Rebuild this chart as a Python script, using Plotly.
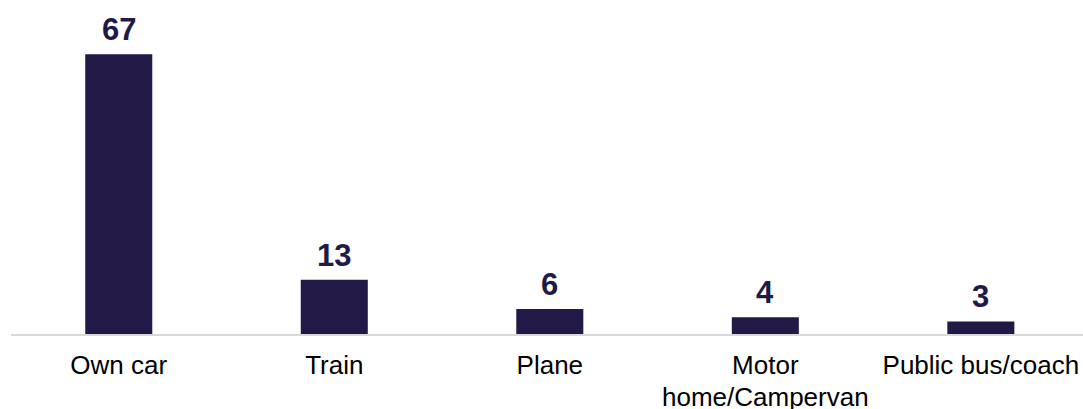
import plotly.graph_objects as go

categories = ["Own car", "Train", "Plane", "Motor\nhome/Campervan", "Public bus/coach"]
values = [67, 13, 6, 4, 3]

bar_color = "#221947"
font_family = "Liberation Sans, Arial"

# A wrapped category keeps its first line as the tick label; the rest is
# set just beneath it with tighter leading.
first_lines = [c.split("\n")[0] for c in categories]
second_lines = {i: c.split("\n", 1)[1] for i, c in enumerate(categories) if "\n" in c}

fig = go.Figure(
    go.Bar(
        x=list(range(len(categories))),
        y=values,
        width=0.311,
        marker=dict(color=bar_color, line=dict(width=0)),
        hoverinfo="skip",
    )
)

# Bold value labels above each bar
for i, v in enumerate(values):
    fig.add_annotation(
        x=i, y=v, text=f"<b>{v}</b>", showarrow=False,
        yanchor="bottom", yshift=5,
        font=dict(family=font_family, size=31, color=bar_color),
    )

for i, txt in second_lines.items():
    fig.add_annotation(
        x=i, xref="x", y=0, yref="paper", text=txt, showarrow=False,
        yanchor="top", yshift=-46,
        font=dict(family=font_family, size=26, color="#000000"),
    )

fig.update_layout(
    width=1083, height=409,
    margin=dict(l=11, r=0, t=0, b=75),
    plot_bgcolor="white", paper_bgcolor="white",
    showlegend=False,
    font=dict(family=font_family, size=26, color="#000000"),
    xaxis=dict(
        tickmode="array", tickvals=list(range(len(categories))), ticktext=first_lines,
        range=[-0.5, 4.474], showgrid=False, zeroline=False,
        showline=True, linecolor="#d9d9d9", linewidth=2,
        ticks="", ticklabelstandoff=7, automargin=False,
    ),
    yaxis=dict(range=[0, 80.0], visible=False, fixedrange=True, automargin=False),
)

fig.write_html("out.html")
